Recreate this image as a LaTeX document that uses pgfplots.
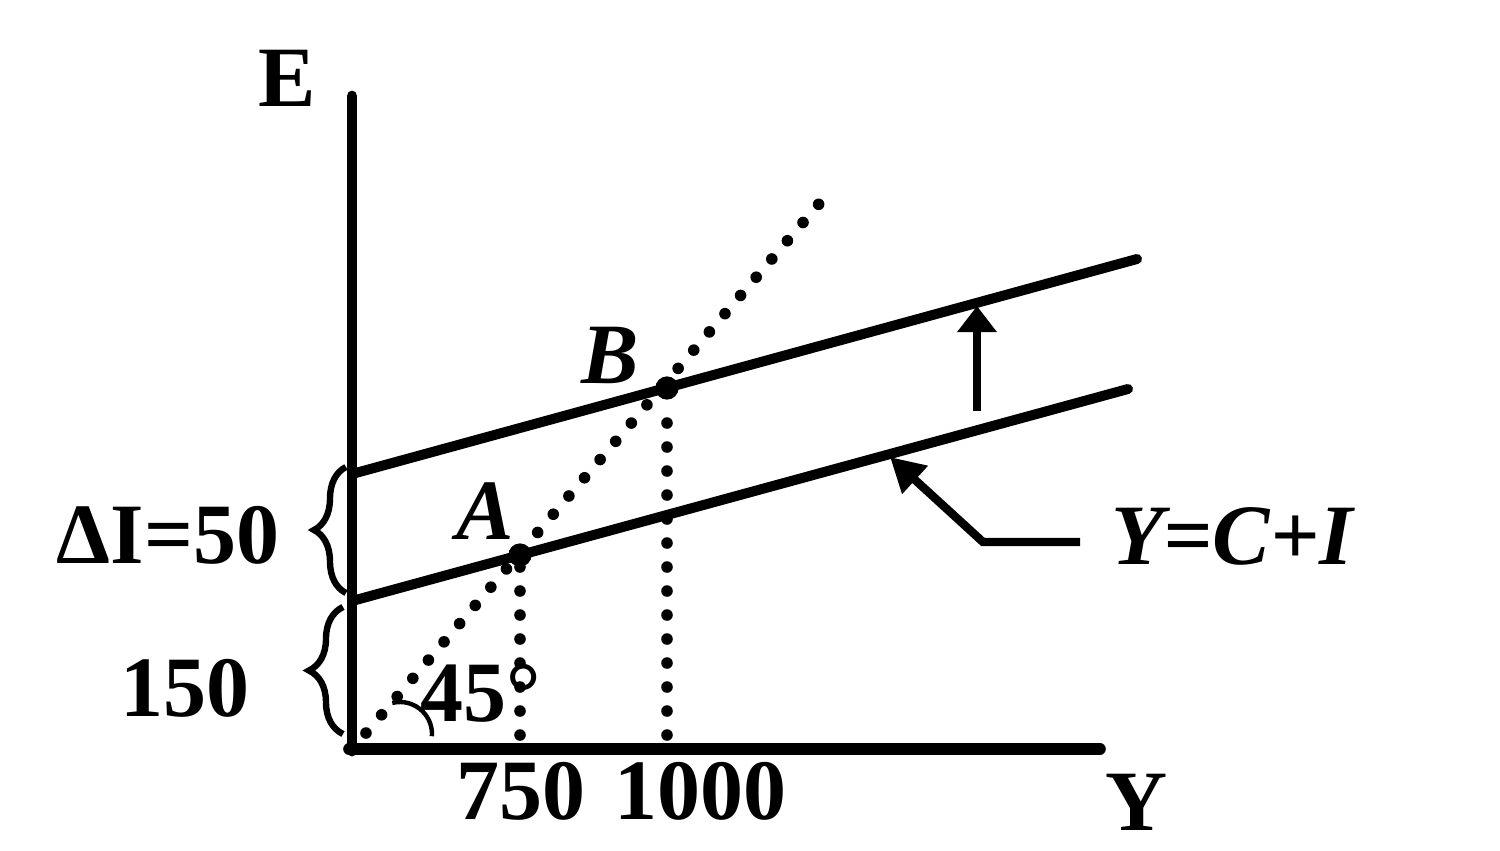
\documentclass[border=0pt]{standalone}
\usepackage{fontspec}
\setmainfont{Liberation Serif}
\usepackage{pgfplots}
\pgfplotsset{compat=1.18}
\usetikzlibrary{arrows.meta,decorations.pathreplacing}
\begin{document}
\begin{tikzpicture}[
    sline/.style={black, line width=2.5pt, line cap=round},
    dots/.style={black, line width=2.9pt, line cap=round, dash pattern=on 0pt off 6pt},
    lbl/.style={font=\bfseries\fontsize{21.5}{24}\selectfont, inner sep=0pt},
  ]
\path[use as bounding box] (0,0) rectangle (375pt,212.5pt);
\begin{axis}[
    at={(88pt,25.25pt)}, anchor=south west,
    scale only axis, width=200pt, height=175pt,
    xmin=0, xmax=800, ymin=0, ymax=700,
    axis lines=none, clip=false,
  ]
  % axes
  \addplot[sline, line width=2.7pt] coordinates {(0,-2) (0,653)};
  \addplot[sline, line width=2.9pt] coordinates {(-3,0) (748,0)};
  % C+I and C+I+dI
  \addplot[sline] coordinates {(0,148) (776,360)};
  \addplot[sline] coordinates {(0,275) (785,490)};
  % 45 degree line and drop lines
  \addplot[dots] coordinates {(14,16) (478,558)};
  \addplot[dots] coordinates {(168,14) (168,185)};
  \addplot[dots] coordinates {(315,14) (315,345)};
  % equilibria
  \addplot[black, only marks, mark=*, mark size=2.7pt] coordinates {(168,194) (315,361)};
  % shift arrow
  \addplot[black, line width=2.1pt, -{Triangle[length=6.5pt,width=9.5pt]}] coordinates {(625,338) (625,443)};
  % label pointer
  \addplot[black, line width=2.1pt, line join=miter, -{Triangle[length=8.5pt,width=9pt]}] coordinates {(728,207) (631,207) (538,292)};
  % braces
  \draw[decorate, decoration={brace, amplitude=8pt}, line width=1.6pt] (axis cs:-6,156) -- (axis cs:-6,282);
  \draw[decorate, decoration={brace, amplitude=8.5pt}, line width=1.6pt] (axis cs:-9,15) -- (axis cs:-9,142);
  % angle mark
  \draw[line width=1.1pt] (axis cs:48,15) ++(104:8pt) arc[start angle=104, end angle=-4, radius=8pt];
  % labels
  \node[lbl] at (axis cs:-65,671) {E};
  \node[lbl] at (axis cs:785,-53) {Y};
  \node[lbl] at (axis cs:169,-42) {750};
  \node[lbl] at (axis cs:348,-42) {1000};
  \node[lbl] at (axis cs:-167,61) {150};
  \node[lbl] at (axis cs:-184,214) {ΔI=50};
  \node[lbl] at (axis cs:133,238) {\itshape A};
  \node[lbl] at (axis cs:258,394) {\itshape B};
  \node[lbl] at (axis cs:129,56) {45°};
  \node[lbl] at (axis cs:880,213) {\itshape Y=C+I};
\end{axis}
\end{tikzpicture}
\end{document}
